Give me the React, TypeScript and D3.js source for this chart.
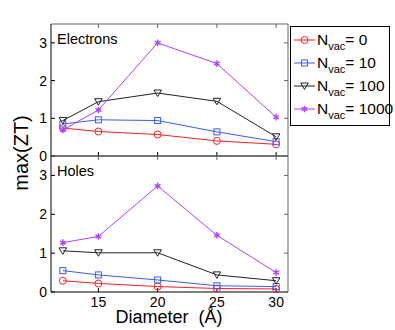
import React from 'react'
import * as d3 from 'd3'

// diameters (Å)
const diameters = [12, 15, 20, 25, 30]
const nvacLabels = ['0', '10', '100', '1000']
const seriesColors = ['#ff2020', '#3a5bff', '#222222', '#b340ff']
const seriesMarkers = ['circle', 'square', 'triangle', 'star']

// max(ZT) values, electrons panel
const electrons = [
  [0.74, 0.65, 0.57, 0.40, 0.31],
  [0.85, 0.96, 0.94, 0.64, 0.38],
  [0.94, 1.44, 1.67, 1.45, 0.51],
  [0.69, 1.22, 3.0, 2.45, 1.03],
]
// max(ZT) values, holes panel
const holes = [
  [0.29, 0.22, 0.14, 0.09, 0.08],
  [0.55, 0.44, 0.31, 0.16, 0.14],
  [1.06, 1.01, 1.01, 0.44, 0.29],
  [1.27, 1.43, 2.73, 1.46, 0.50],
]
const xTicks = [15, 20, 25, 30]
const yTicks = [0, 1, 2, 3]

const W = 395
const H = 330
const left = 51
const right = 288
const font = '"Liberation Sans", Arial, Helvetica, sans-serif'

function Marker({ kind, x, y, color }: { kind: string; x: number; y: number; color: string }) {
  if (kind === 'circle') return <circle cx={x} cy={y} r={3.5} fill="none" stroke={color} strokeWidth={1} />
  if (kind === 'square') return <rect x={x - 3} y={y - 3} width={6} height={6} fill="none" stroke={color} strokeWidth={1} />
  if (kind === 'triangle')
    return <path d={`M${x - 3.8},${y - 3}L${x + 3.8},${y - 3}L${x},${y + 3.5}Z`} fill="none" stroke={color} strokeWidth={1} />
  return (
    <path d={d3.symbol(d3.symbolAsterisk, 30)()!} transform={`translate(${x},${y})`} fill="none" stroke={color} strokeWidth={1.4} />
  )
}

function Panel({ data, top, bottom, label, showX }: { data: number[][]; top: number; bottom: number; label: string; showX: boolean }) {
  const x = d3.scaleLinear().domain([11, 31]).range([left, right])
  const y = d3.scaleLinear().domain([0, 3.5]).range([bottom, top])
  const line = d3.line<number>().x((_, i) => x(diameters[i])).y(d => y(d))
  return (
    <g>
      {/* frame */}
      <line x1={left} x2={right} y1={top} y2={top} stroke="#666" />
      <line x1={right} x2={right} y1={top} y2={bottom} stroke="#666" />
      <line x1={left} x2={left} y1={top} y2={bottom} stroke="#000" />
      <line x1={left} x2={right} y1={bottom} y2={bottom} stroke="#000" />
      {xTicks.map(t => (
        <g key={t}>
          <line x1={x(t)} x2={x(t)} y1={bottom} y2={bottom - 4} stroke="#000" />
          <line x1={x(t)} x2={x(t)} y1={top} y2={top + 4} stroke="#666" />
          {showX && (
            <text x={x(t)} y={bottom + 14.5} textAnchor="middle" fontSize={14} fontFamily={font}>{t}</text>
          )}
        </g>
      ))}
      {yTicks.map(t => (
        <g key={t}>
          <line x1={left} x2={left + 4} y1={y(t)} y2={y(t)} stroke="#000" />
          <line x1={right} x2={right - 4} y1={y(t)} y2={y(t)} stroke="#666" />
          <text x={left - 4} y={y(t) + 5} textAnchor="end" fontSize={14} fontFamily={font}>{t}</text>
        </g>
      ))}
      <text x={left + 6} y={top + 20} fontSize={14.5} fontFamily={font}>{label}</text>
      {data.map((s, k) => (
        <g key={k}>
          <path d={line(s)!} fill="none" stroke={seriesColors[k]} strokeWidth={1} />
          {s.map((v, i) => (
            <Marker key={i} kind={seriesMarkers[k]} x={x(diameters[i])} y={y(v)} color={seriesColors[k]} />
          ))}
        </g>
      ))}
    </g>
  )
}

export default function App() {
  return (
    <svg width={W} height={H} style={{ position: 'absolute', left: 0, top: 0, background: '#fff' }}>
      <Panel data={electrons} top={24} bottom={156} label="Electrons" showX={false} />
      <Panel data={holes} top={156} bottom={292} label="Holes" showX={true} />
      <text transform="translate(28,153) rotate(-90)" textAnchor="middle" fontSize={20} fontFamily={font}>max(ZT)</text>
      <text x={169} y={323} textAnchor="middle" fontSize={18} fontFamily={font} style={{ whiteSpace: 'pre' }}>Diameter  (Å)</text>
      {/* legend */}
      <rect x={290.5} y={26.5} width={99} height={99} fill="#fff" stroke="#000" />
      {nvacLabels.map((lab, k) => {
        const cy = 40 + k * 23
        return (
          <g key={lab}>
            <line x1={294} x2={315} y1={cy} y2={cy} stroke={seriesColors[k]} />
            <Marker kind={seriesMarkers[k]} x={304.5} y={cy} color={seriesColors[k]} />
            <text x={317} y={cy + 5} fontSize={15.5} fontFamily={font}>
              N<tspan fontSize={11} dy={5}>vac</tspan><tspan dy={-5}>= {lab}</tspan>
            </text>
          </g>
        )
      })}
    </svg>
  )
}
